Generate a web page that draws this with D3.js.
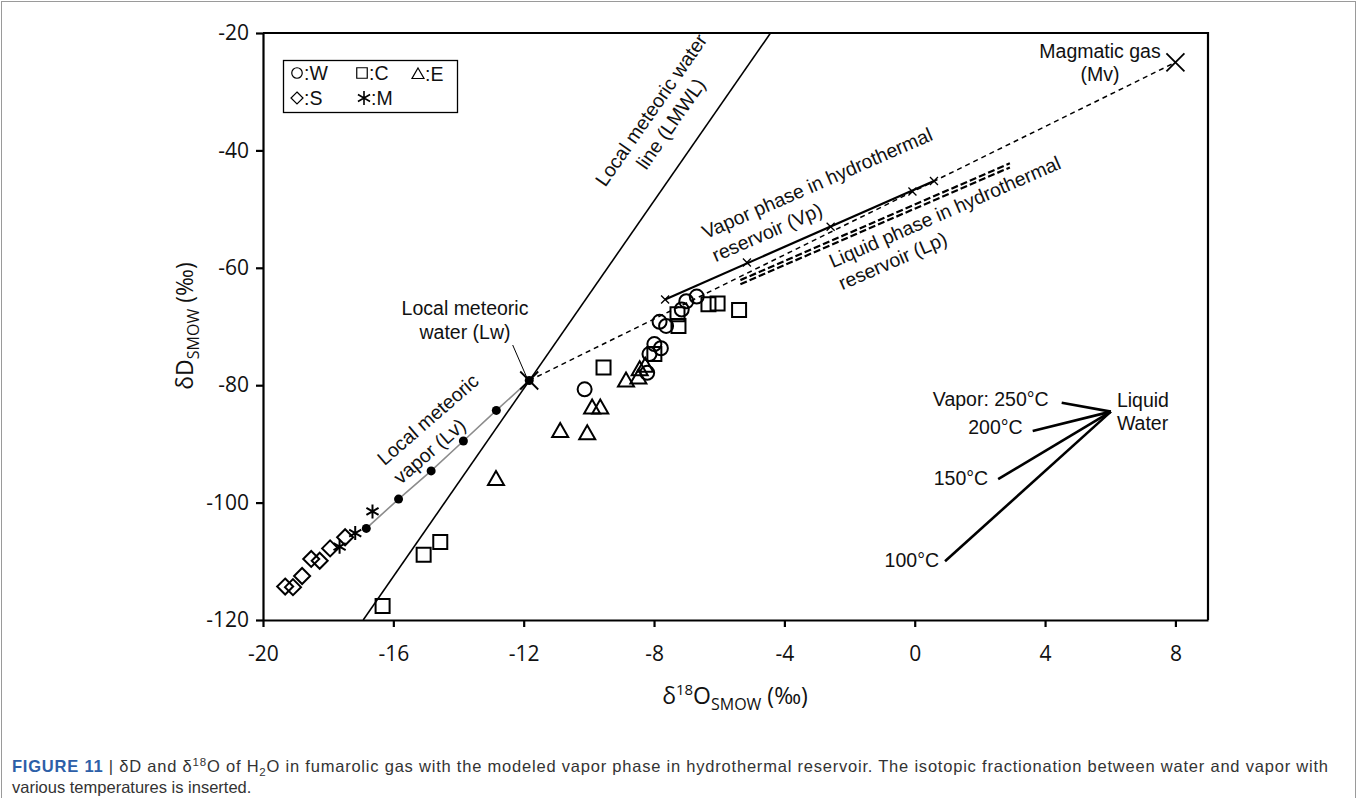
<!DOCTYPE html>
<html>
<head>
<meta charset="utf-8">
<script src="https://cdn.jsdelivr.net/npm/d3@7"></script>
<style>
  body { margin: 0; background: #fff; }
  svg { display: block; }
  .tick text { font-family: "Open Sans", "Liberation Sans", sans-serif; }
  .ann { font-family: "Liberation Sans", Arial, sans-serif; font-size: 19.5px; fill: #111; }
</style>
</head>
<body>
<svg id="chart" width="1357" height="798"></svg>
<script>
// --- data (delta18O, deltaD) ---
var W = [[-10.13, -80.7], [-8.21, -77.9], [-8.14, -74.7], [-7.99, -73.0], [-7.79, -73.7],
         [-7.83, -69.2], [-7.63, -69.9], [-7.15, -67.1], [-7.01, -65.7], [-6.69, -64.9]];
var C = [[-16.33, -117.6], [-15.07, -108.9], [-14.56, -106.7], [-9.55, -77.0], [-7.99, -74.7],
         [-7.25, -69.9], [-7.28, -67.9], [-6.33, -66.2], [-6.05, -66.1], [-5.39, -67.2]];
var E = [[-12.85, -96.0], [-10.88, -87.8], [-10.05, -88.2], [-9.90, -83.8], [-9.65, -83.8],
         [-8.86, -79.2], [-8.48, -78.7], [-8.44, -77.3], [-8.27, -76.7]];
var S = [[-19.32, -114.3], [-19.08, -114.4], [-18.80, -112.5], [-18.52, -109.6], [-18.26, -109.9],
         [-17.94, -107.8], [-17.48, -105.9]];
var M = [[-17.65, -107.5], [-17.17, -105.2], [-16.64, -101.5]];

var Lv = [[-16.83, -104.4], [-15.84, -99.4], [-14.84, -94.6], [-13.85, -89.5], [-12.84, -84.3], [-11.83, -79.2]];
var Lw = [-11.83, -79.2];
var Mv = [8, -25];
var Vp = [[-7.66, -65.4], [-5.15, -59.1], [-2.58, -53.0], [-0.07, -47.0], [0.59, -45.2]];
var Lp1 = [[-5.35, -62.1], [2.92, -42.2]];
var Lp2 = [[-5.35, -62.8], [2.92, -42.9]];
var lmwlSlope = 8, lmwlIntercept = 15.4;

// inset: fractionation water -> vapor
var insetOrigin = [6.02, -84.5];
var insetTemps = ["Vapor: 250°C", "200°C", "150°C", "100°C"];
var insetEnds = [[4.51, -83.0], [3.62, -87.8], [2.56, -96.0], [0.93, -110.0]];

var xTicks = [-20, -16, -12, -8, -4, 0, 4, 8];
var yTicks = [-120, -100, -80, -60, -40, -20];

(function() {
var svg = d3.select("#chart");
var pL = 263, pR = 1208, pT = 33, pB = 620;

var x = d3.scaleLinear().domain([-20, 9]).range([pL, pR]);
var y = d3.scaleLinear().domain([-120, -20]).range([pB, pT]);

// outer figure border
svg.append("rect").attr("x", 1.5).attr("y", 1.5).attr("width", 1354).attr("height", 800)
  .attr("fill", "none").attr("stroke", "#9a9a9a").attr("stroke-width", 1);

svg.append("clipPath").attr("id", "clip").append("rect")
  .attr("x", pL).attr("y", pT).attr("width", pR - pL).attr("height", pB - pT);

var g = svg.append("g");
var fmt = function(d) { return String(d); };

// axes
var xAxis = g.append("g").attr("transform", "translate(0," + pB + ")")
  .call(d3.axisBottom(x).tickValues(xTicks).tickFormat(fmt).tickSize(7).tickSizeOuter(0).tickPadding(19));
var yAxis = g.append("g").attr("transform", "translate(" + pL + ",0)")
  .call(d3.axisLeft(y).tickValues(yTicks).tickFormat(fmt).tickSize(7).tickSizeOuter(0).tickPadding(7));
[xAxis, yAxis].forEach(function(a) {
  a.selectAll("path, line").attr("stroke", "#000").attr("stroke-width", 2.2);
  a.selectAll("text").attr("font-size", 21).attr("fill", "#111");
});
g.append("path").attr("d", "M" + pL + "," + pT + "H" + pR + "V" + pB)
  .attr("fill", "none").attr("stroke", "#000").attr("stroke-width", 2.2);

// axis titles
var xt = svg.append("text").attr("x", 735).attr("y", 704).attr("text-anchor", "middle")
  .style("font-family", "'Open Sans', 'Liberation Sans', sans-serif").attr("font-size", 23).attr("fill", "#111");
xt.append("tspan").text("δ");
xt.append("tspan").attr("font-size", 15).attr("dy", -9).text("18");
xt.append("tspan").attr("dy", 9).text("O");
xt.append("tspan").attr("font-size", 16).attr("dy", 6).text("SMOW");
xt.append("tspan").attr("dy", -6).text(" (‰)");

var yt = svg.append("text").attr("transform", "translate(193,326) rotate(-90)").attr("text-anchor", "middle")
  .style("font-family", "'Open Sans', 'Liberation Sans', sans-serif").attr("font-size", 23).attr("fill", "#111");
yt.append("tspan").text("δD");
yt.append("tspan").attr("font-size", 16).attr("dy", 6).text("SMOW");
yt.append("tspan").attr("dy", -6).text(" (‰)");

var plot = g.append("g").attr("clip-path", "url(#clip)");
var line = d3.line().x(function(d) { return x(d[0]); }).y(function(d) { return y(d[1]); });

// LMWL
var lmwl = [-120, -20].map(function(d) { return [(d - lmwlIntercept) / lmwlSlope, d]; });
plot.append("path").attr("d", line(lmwl)).attr("stroke", "#000").attr("stroke-width", 1.6).attr("fill", "none");

// Lw -> Mv mixing line
plot.append("path").attr("d", line([Lw, Mv])).attr("stroke", "#000").attr("stroke-width", 1.5)
  .attr("stroke-dasharray", "5,4").attr("fill", "none");

// Lp (liquid) thick dashed
[Lp1, Lp2].forEach(function(p) {
  plot.append("path").attr("d", line(p)).attr("stroke", "#000").attr("stroke-width", 2.2)
    .attr("stroke-dasharray", "7,3").attr("fill", "none");
});

// Vp solid with small x marks
plot.append("path").attr("d", line([Vp[0], Vp[Vp.length - 1]])).attr("stroke", "#000").attr("stroke-width", 2.2).attr("fill", "none");
function cross(sel, pts, r, w) {
  sel.selectAll(null).data(pts).enter().append("path")
    .attr("d", function(d) {
      var cx = x(d[0]), cy = y(d[1]);
      return "M" + (cx - r) + "," + (cy - r) + "L" + (cx + r) + "," + (cy + r) +
             "M" + (cx - r) + "," + (cy + r) + "L" + (cx + r) + "," + (cy - r);
    })
    .attr("stroke", "#000").attr("stroke-width", w).attr("fill", "none");
}
cross(plot, Vp, 4, 1.3);

// Lv gray line with dots
plot.append("path").attr("d", line(Lv)).attr("stroke", "#8c8c8c").attr("stroke-width", 1.6).attr("fill", "none");
plot.selectAll(".lv").data(Lv).enter().append("circle")
  .attr("cx", function(d) { return x(d[0]); }).attr("cy", function(d) { return y(d[1]); })
  .attr("r", 4.5).attr("fill", "#000");

// big crosses at Lw and Mv
cross(plot, [Lw, Mv], 9, 1.8);

function sym(type, cx, cy) {
  if (type === "circle") return "M" + (cx + 7) + "," + cy + "A7,7 0 1,1 " + (cx - 7) + "," + cy + "A7,7 0 1,1 " + (cx + 7) + "," + cy + "Z";
  if (type === "square") return "M" + (cx - 7) + "," + (cy - 7) + "h14v14h-14Z";
  if (type === "triangle") return "M" + cx + "," + (cy - 8) + "L" + (cx + 8) + "," + (cy + 6) + "L" + (cx - 8) + "," + (cy + 6) + "Z";
  if (type === "diamond") return "M" + cx + "," + (cy - 8) + "L" + (cx + 8) + "," + cy + "L" + cx + "," + (cy + 8) + "L" + (cx - 8) + "," + cy + "Z";
  if (type === "star") {
    var r = 7, s = "";
    [90, 30, -30].forEach(function(a) {
      var dx = r * Math.cos(a * Math.PI / 180), dy = r * Math.sin(a * Math.PI / 180);
      s += "M" + (cx - dx) + "," + (cy - dy) + "L" + (cx + dx) + "," + (cy + dy);
    });
    return s;
  }
}
var series = [
  {data: C, type: "square"}, {data: E, type: "triangle"}, {data: W, type: "circle"},
  {data: S, type: "diamond"}, {data: M, type: "star"}
];
series.forEach(function(s) {
  plot.selectAll(null).data(s.data).enter().append("path")
    .attr("d", function(d) { return sym(s.type, x(d[0]), y(d[1])); })
    .attr("fill", "none").attr("stroke", "#000").attr("stroke-width", 2);
});

// inset fractionation lines
var ins = g.append("g");
var insDx = [13, 10, 10, 6], insDy = [-4, -4, -1, -1];
insetEnds.forEach(function(e, i) {
  ins.append("path").attr("d", line([e, insetOrigin])).attr("stroke", "#000").attr("stroke-width", 2.6);
  ins.append("text").attr("class", "ann").attr("x", x(e[0]) - insDx[i]).attr("y", y(e[1]) + insDy[i])
    .attr("dy", "0.35em").attr("text-anchor", "end").text(insetTemps[i]);
});
ins.append("text").attr("class", "ann").attr("x", x(insetOrigin[0]) + 6).attr("y", y(insetOrigin[1]) - 11).attr("dy", "0.35em").text("Liquid");
ins.append("text").attr("class", "ann").attr("x", x(insetOrigin[0]) + 6).attr("y", y(insetOrigin[1]) + 12).attr("dy", "0.35em").text("Water");

// annotations
function block(cx, cy, ang, lines, gap, anchor) {
  var t = g.append("g").attr("transform", "translate(" + cx + "," + cy + ") rotate(" + ang + ")");
  lines.forEach(function(l, i) {
    t.append("text").attr("class", "ann").attr("text-anchor", anchor || "middle").attr("y", i * gap).attr("dy", "0.35em").text(l);
  });
}
block(651, 110, -55.2, ["Local meteoric water", "line (LMWL)"], 24);
block(703, 233, -23.6, ["Vapor phase in hydrothermal", "reservoir (Vp)"], 25, "start");
block(830, 262, -23.6, ["Liquid phase in hydrothermal", "reservoir (Lp)"], 24, "start");
block(380, 461, -41, ["Local meteoric", "vapor (Lv)"], 25, "start");
block(465, 308, 0, ["Local meteoric", "water (Lw)"], 24);
block(1100, 51, 0, ["Magmatic gas", "(Mv)"], 23);
g.append("path").attr("d", "M512.7,345L" + (x(Lw[0]) - 2) + "," + (y(Lw[1]) - 2)).attr("stroke", "#000").attr("stroke-width", 1);

// legend
var lg = g.append("g");
lg.append("rect").attr("x", 283.5).attr("y", 60.5).attr("width", 174).attr("height", 52)
  .attr("fill", "#fff").attr("stroke", "#000").attr("stroke-width", 1.3);
var legendItems = [
  {type: "circle", label: ":W", cx: 297, cy: 73}, {type: "square", label: ":C", cx: 362, cy: 73},
  {type: "triangle", label: ":E", cx: 418, cy: 74}, {type: "diamond", label: ":S", cx: 297, cy: 98},
  {type: "star", label: ":M", cx: 364, cy: 98}
];
legendItems.forEach(function(it) {
  var sc = it.type === "star" ? 1 : 0.75;
  lg.append("path").attr("transform", "translate(" + it.cx + "," + it.cy + ") scale(" + sc + ")")
    .attr("d", sym(it.type, 0, 0)).attr("fill", "none").attr("stroke", "#000").attr("stroke-width", 1.6);
  lg.append("text").attr("class", "ann").attr("x", it.cx + 7).attr("y", it.cy).attr("dy", "0.35em").text(it.label);
});

// caption
var cap = svg.append("g").style("font-family", "'Liberation Sans', Arial, sans-serif").attr("font-size", 16.5).attr("fill", "#333");
var c1 = cap.append("text").attr("x", 12).attr("y", 772).attr("textLength", 1316).attr("lengthAdjust", "spacing");
c1.append("tspan").attr("font-weight", "bold").attr("fill", "#2d5fa8").text("FIGURE 11");
c1.append("tspan").text(" | δD and δ");
c1.append("tspan").attr("font-size", 11.5).attr("dy", -6).text("18");
c1.append("tspan").attr("dy", 6).text("O of H");
c1.append("tspan").attr("font-size", 11.5).attr("dy", 4).text("2");
c1.append("tspan").attr("dy", -4).text("O in fumarolic gas with the modeled vapor phase in hydrothermal reservoir. The isotopic fractionation between water and vapor with");
cap.append("text").attr("x", 12).attr("y", 793).text("various temperatures is inserted.");
})();
</script>
</body>
</html>
